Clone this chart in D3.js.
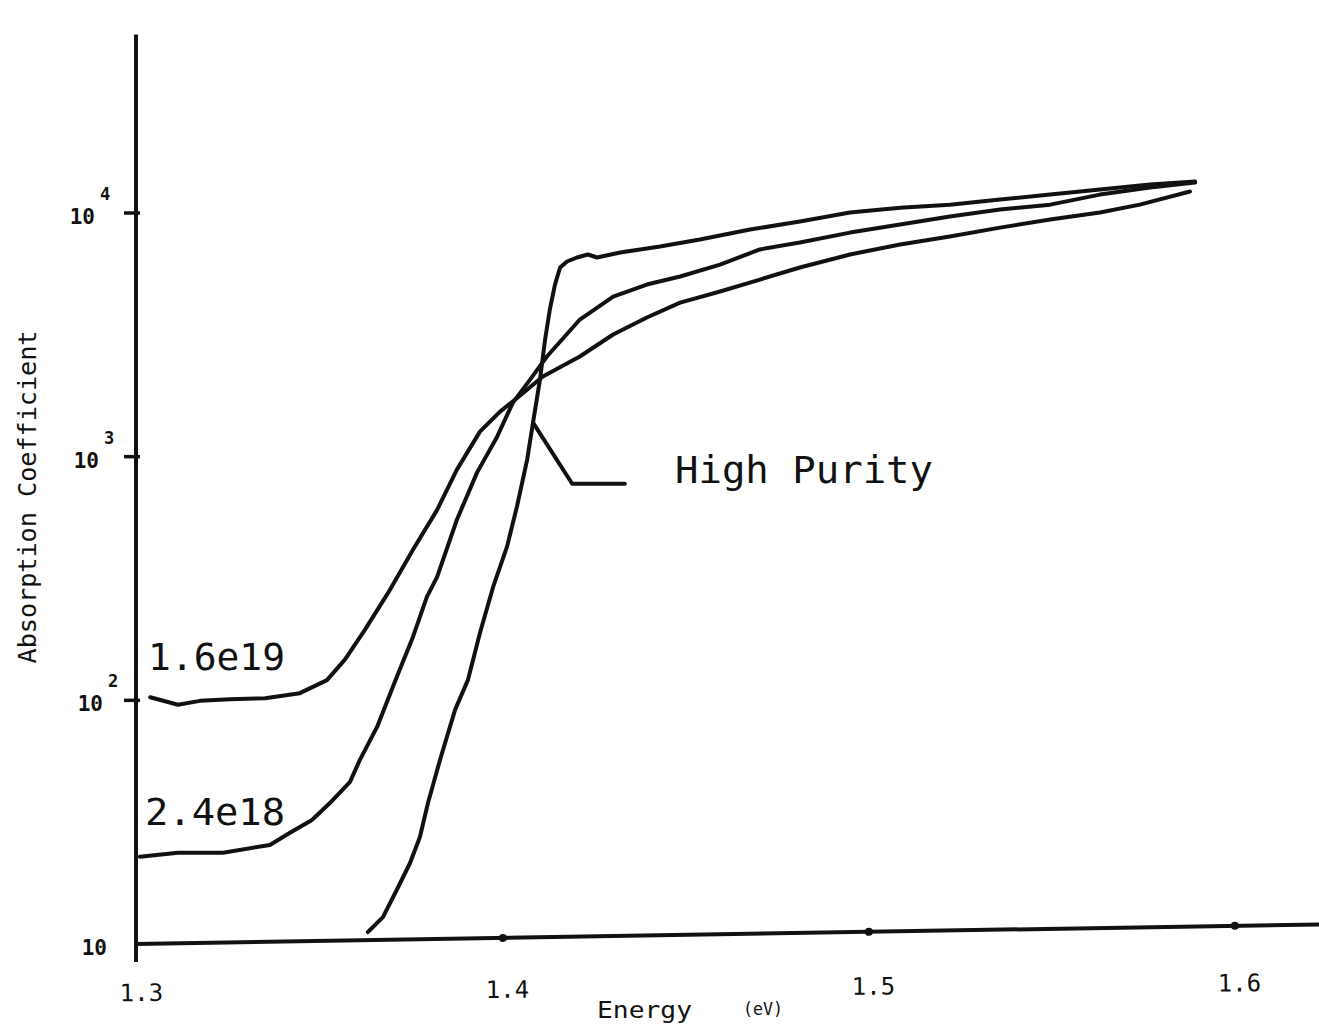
<!DOCTYPE html>
<html lang="en">
<meta charset="utf-8">
<style>

body {
  margin: 0;
  background: #fff;
}

svg text {
  font-family: "DejaVu Sans Mono", monospace;
  fill: #111;
}

.curve {
  fill: none;
  stroke: #111;
  stroke-width: 4;
  stroke-linejoin: round;
  stroke-linecap: round;
}

.axisline {
  stroke: #111;
  stroke-width: 4;
  stroke-linecap: butt;
}

</style>
<body>
<script src="https://d3js.org/d3.v7.min.js"></script>
<script>
// Width and height
var w = 1319;
var h = 1028;

// High purity sample (energy in eV, absorption coefficient in 1/cm)
var hpEnergy = [1.3631, 1.3672, 1.3710, 1.3746, 1.3773, 1.3795, 1.3828, 1.3869, 1.3904, 1.3937,
                1.3973, 1.4011, 1.4038, 1.4066, 1.4082, 1.4101, 1.4115, 1.4128, 1.4142, 1.4156,
                1.4175, 1.4202, 1.4232, 1.4257, 1.4320, 1.4429, 1.4538, 1.4675, 1.4811, 1.4948,
                1.5085, 1.5221, 1.5358, 1.5495, 1.5631, 1.5768, 1.5891];
var hpAlpha = [11.2, 12.9, 16.7, 21.5, 27.5, 37.9, 57.0, 91.4, 121, 189,
               292, 427, 623, 973, 1380, 2071, 3027, 4018, 5085, 5975,
               6324, 6566, 6757, 6566, 6889, 7287, 7780, 8550, 9230, 10050,
               10520, 10820, 11350, 11900, 12480, 13090, 13460];

// 2.4e18 sample
var n18Energy = [1.3008, 1.3112, 1.3235, 1.3363, 1.3418, 1.3478, 1.3527, 1.3582, 1.3609, 1.3656,
                 1.3710, 1.3754, 1.3792, 1.3820, 1.3874, 1.3929, 1.3984, 1.4027, 1.4074, 1.4120,
                 1.4210, 1.4301, 1.4393, 1.4484, 1.4593, 1.4702, 1.4811, 1.4948, 1.5085, 1.5221,
                 1.5358, 1.5495, 1.5631, 1.5768, 1.5891];
var n18Alpha = [22.8, 23.7, 23.7, 25.5, 28.6, 32.3, 37.9, 46.3, 57.0, 77.8,
                125, 182, 266, 321, 551, 860, 1208, 1667, 2071, 2577,
                3654, 4540, 5085, 5486, 6143, 7087, 7564, 8310, 8970, 9680,
                10330, 10820, 11900, 12720, 13330];

// 1.6e19 sample
var n19Energy = [1.3036, 1.3112, 1.3172, 1.3254, 1.3350, 1.3445, 1.3519, 1.3568, 1.3623, 1.3686,
                 1.3754, 1.3820, 1.3874, 1.3937, 1.3992, 1.4033, 1.4109, 1.4210, 1.4301, 1.4393,
                 1.4484, 1.4593, 1.4702, 1.4811, 1.4948, 1.5085, 1.5221, 1.5358, 1.5495, 1.5631,
                 1.5740, 1.5877];
var n19Alpha = [103, 95.9, 99.5, 101, 102, 107, 121, 147, 195, 276,
                415, 605, 885, 1267, 1531, 1715, 2133, 2577, 3171, 3724,
                4290, 4762, 5332, 5975, 6757, 7425, 8003, 8710, 9400, 10050,
                10820, 12250];

// Tick values and labels
var xTicks = [1.3, 1.4, 1.5, 1.6];
var xTickLabels = ["1.3", "1.4", "1.5", "1.6"];
var yTicks = [10, 100, 1000, 10000];
var yTickExp = ["", "2", "3", "4"];

// Scales
var xScale = d3.scaleLinear()
  .domain([1.3, 1.6])
  .range([137, 1235]);

var yScale = d3.scaleLog()
  .domain([10, 10000])
  .range([944, 213]);

var svg = d3.select("body")
  .append("svg")
  .attr("width", w)
  .attr("height", h);

// Y axis: a plain thick line with short cross ticks
var x0 = xScale(1.3) - 1;
svg.append("line")
  .attr("class", "axisline")
  .attr("x1", x0).attr("x2", x0)
  .attr("y1", yScale(54000))
  .attr("y2", yScale(10) + 18);

svg.selectAll(".ytick")
  .data(yTicks.slice(1))
  .enter()
  .append("line")
  .attr("class", "ytick")
  .attr("x1", x0 - 12).attr("x2", x0 + 4)
  .attr("y1", function(d) { return yScale(d); })
  .attr("y2", function(d) { return yScale(d); })
  .attr("stroke", "#111")
  .attr("stroke-width", 3.5);

// tick labels drift a little to the left going up (plotter skew)
var ylab = svg.selectAll(".ylab")
  .data(yTicks)
  .enter()
  .append("g")
  .attr("class", "ylab")
  .attr("transform", function(d, i) {
    return "translate(" + (x0 - 29 - 4 * i) + "," + (yScale(d) + 11) + ")";
  });

ylab.append("text")
  .attr("text-anchor", "end")
  .attr("x", 0)
  .style("font-size", "21px")
  .style("font-weight", "bold")
  .text("10");

ylab.append("text")
  .attr("x", 5)
  .attr("y", -24)
  .style("font-size", "17px")
  .style("font-weight", "bold")
  .text(function(d, i) { return yTickExp[i]; });

// X axis, the plotter page is slightly tilted
var xaxis = svg.append("g")
  .attr("transform", "rotate(-0.95," + x0 + "," + yScale(10) + ")");

xaxis.append("line")
  .attr("class", "axisline")
  .attr("x1", x0)
  .attr("x2", xScale(1.626))
  .attr("y1", yScale(10))
  .attr("y2", yScale(10));

xaxis.selectAll(".xtick")
  .data(xTicks.slice(1))
  .enter()
  .append("circle")
  .attr("class", "xtick")
  .attr("cx", function(d) { return xScale(d); })
  .attr("cy", yScale(10))
  .attr("r", 4)
  .attr("fill", "#111");

var xlabs = svg.append("g")
  .attr("transform", "rotate(-0.5," + x0 + "," + yScale(10) + ")");

xlabs.selectAll(".xlab")
  .data(xTicks)
  .enter()
  .append("text")
  .attr("class", "xlab")
  .attr("text-anchor", "middle")
  .attr("x", function(d) { return xScale(d) + 4; })
  .attr("y", 1001)
  .style("font-size", "24px")
  .text(function(d, i) { return xTickLabels[i]; });

// Axis titles
svg.append("text")
  .attr("x", 597)
  .attr("y", 1018)
  .attr("textLength", 95)
  .attr("lengthAdjust", "spacingAndGlyphs")
  .style("font-size", "23px")
  .text("Energy");

svg.append("text")
  .attr("x", 743)
  .attr("y", 1015)
  .attr("textLength", 40)
  .attr("lengthAdjust", "spacingAndGlyphs")
  .style("font-size", "18px")
  .text("(eV)");

svg.append("text")
  .attr("transform", "translate(36,497) rotate(-90)")
  .attr("text-anchor", "middle")
  .attr("textLength", 333)
  .attr("lengthAdjust", "spacingAndGlyphs")
  .style("font-size", "24px")
  .text("Absorption Coefficient");

// Curves
var line = d3.line()
  .x(function(d) { return xScale(d[0]); })
  .y(function(d) { return yScale(d[1]); });

var series = [
  d3.zip(hpEnergy, hpAlpha),
  d3.zip(n18Energy, n18Alpha),
  d3.zip(n19Energy, n19Alpha)
];

svg.selectAll(".curve")
  .data(series)
  .enter()
  .append("path")
  .attr("class", "curve")
  .attr("d", line);

// Labels on the curves
svg.append("text")
  .attr("x", 148).attr("y", 670)
  .attr("textLength", 137)
  .attr("lengthAdjust", "spacingAndGlyphs")
  .style("font-size", "37px")
  .text("1.6e19");

svg.append("text")
  .attr("x", 145).attr("y", 825)
  .attr("textLength", 140)
  .attr("lengthAdjust", "spacingAndGlyphs")
  .style("font-size", "37px")
  .text("2.4e18");

// High purity leader line and label
var leader = [[1.4082, 1380], [1.4189, 774], [1.4333, 774]];
svg.append("path")
  .attr("class", "curve")
  .attr("stroke-width", 3.5)
  .attr("d", line(leader));

svg.append("text")
  .attr("x", 675).attr("y", 483)
  .attr("textLength", 258)
  .attr("lengthAdjust", "spacingAndGlyphs")
  .style("font-size", "37px")
  .text("High Purity");

</script>
</body>
</html>
